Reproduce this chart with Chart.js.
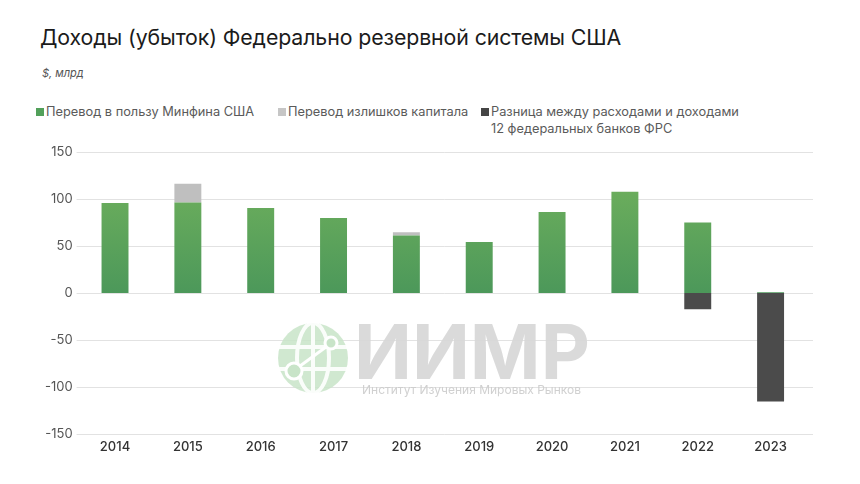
<!DOCTYPE html>
<html lang="ru">
<head>
<meta charset="utf-8">
<script src="https://cdn.jsdelivr.net/npm/chart.js@4"></script>
<style>
  html,body{margin:0;padding:0;background:#fff;}
  body{width:860px;height:484px;position:relative;overflow:hidden;font-family:Inter,"Noto Sans",sans-serif;}
  #c{position:absolute;left:0;top:0;}
  .title{position:absolute;left:40px;top:24px;font-size:21.3px;color:#1b1b1b;letter-spacing:-0.1px;white-space:nowrap;}
  .unit{position:absolute;left:42px;top:66px;font-size:11px;font-style:italic;color:#555;}
  .leg{position:absolute;top:103px;font-size:12.8px;color:#5a5a5a;line-height:17px;white-space:nowrap;}
  .leg i{position:absolute;left:-10px;top:5px;width:8px;height:8px;}
  .wm{position:absolute;pointer-events:none;}
  .wm-big{left:354px;top:313px;font-size:76px;font-weight:700;color:rgba(215,215,215,.92);letter-spacing:0;line-height:76px;}
  .wm-small{left:362px;top:382px;font-size:12px;color:rgba(205,205,205,.95);}
  .wm-globe{left:276px;top:321px;}
</style>
</head>
<body>
<div class="title">Доходы (убыток) Федерально резервной системы США</div>
<div class="unit">$, млрд</div>
<div class="leg" style="left:46px"><i style="background:#52a05a"></i>Перевод в пользу Минфина США</div>
<div class="leg" style="left:288px"><i style="background:#c6c6c6"></i>Перевод излишков капитала</div>
<div class="leg" style="left:491px"><i style="background:#454545"></i>Разница между расходами и доходами<br>12 федеральных банков ФРС</div>
<canvas id="c" width="860" height="484"></canvas>
<svg class="wm wm-globe" width="74" height="74" viewBox="0 0 74 74">
  <circle cx="37" cy="37" r="35" fill="rgba(200,228,200,.85)"/>
  <g stroke="#fff" stroke-width="4" fill="none" opacity=".9">
    <line x1="2" y1="26" x2="72" y2="26"/>
    <line x1="2" y1="48" x2="72" y2="48"/>
    <line x1="37" y1="2" x2="37" y2="72"/>
    <ellipse cx="37" cy="37" rx="16" ry="35"/>
  </g>
  <circle cx="55" cy="22" r="6" fill="rgba(200,228,200,1)" stroke="#fff" stroke-width="3"/>
  <circle cx="18" cy="50" r="8" fill="rgba(200,228,200,1)" stroke="#fff" stroke-width="3"/>
  <line x1="24" y1="45" x2="50" y2="26" stroke="#fff" stroke-width="3"/>
</svg>
<div class="wm wm-big">ИИМР</div>
<div class="wm wm-small">Институт Изучения Мировых Рынков</div>
<script>
const years=['2014','2015','2016','2017','2018','2019','2020','2021','2022','2023'];
const treasury=[95.7,96.4,90.4,79.8,61.3,54.3,86.2,107.8,75.1,0.8];
const surplus=[0,19.8,0,0,3.2,0,0,0,0,0];
const gap=[0,0,0,0,0,0,0,0,-17.4,-115.3];
const yTicks=[-150,-100,-50,0,50,100,150];

const greenFill=(ctx)=>{
  const ch=ctx.chart, a=ch.chartArea;
  if(!a) return '#5aa35a';
  const y=ch.scales.y;
  const g=ch.ctx.createLinearGradient(0,y.getPixelForValue(110),0,y.getPixelForValue(0));
  g.addColorStop(0,'#6bad5c'); g.addColorStop(1,'#4c985a');
  return g;
};

// horizontal grid a bit wider than the plot area, like the original
const gridPlugin={
  id:'wideGrid',
  beforeDatasetsDraw(chart){
    const {ctx,chartArea:a,scales:{y}}=chart;
    ctx.save(); ctx.strokeStyle='#e2e2e2'; ctx.lineWidth=1;
    for(const v of yTicks){
      const py=Math.round(y.getPixelForValue(v))+0.5;
      ctx.beginPath(); ctx.moveTo(a.left-2,py); ctx.lineTo(a.right+6,py); ctx.stroke();
    }
    ctx.restore();
  }
};

new Chart(document.getElementById('c'),{
  type:'bar',
  data:{labels:years,datasets:[
    {label:'Перевод в пользу Минфина США',data:treasury,backgroundColor:greenFill},
    {label:'Перевод излишков капитала',data:surplus,backgroundColor:'#bfbfbf'},
    {label:'Разница между расходами и доходами 12 федеральных банков ФРС',data:gap,backgroundColor:'#4b4b4b'}
  ]},
  options:{
    responsive:false, animation:false,
    layout:{padding:{top:152,right:53,bottom:0,left:0}},
    datasets:{bar:{barPercentage:0.37,categoryPercentage:1,borderWidth:0}},
    plugins:{legend:{display:false},tooltip:{enabled:false}},
    scales:{
      x:{stacked:true,grid:{display:false,drawTicks:false},border:{display:false},
         ticks:{padding:5,color:'#333',font:{family:'Inter',size:13,weight:'500'}},
         afterFit:s=>{s.height=50;}},
      y:{stacked:true,min:-150,max:150,grid:{display:false,drawTicks:false},border:{display:false},
         ticks:{stepSize:50,padding:6,color:'#555',font:{family:'Inter',size:13}},
         afterFit:s=>{s.width=78.6;}}
    }
  },
  plugins:[gridPlugin]
});
</script>
</body>
</html>
